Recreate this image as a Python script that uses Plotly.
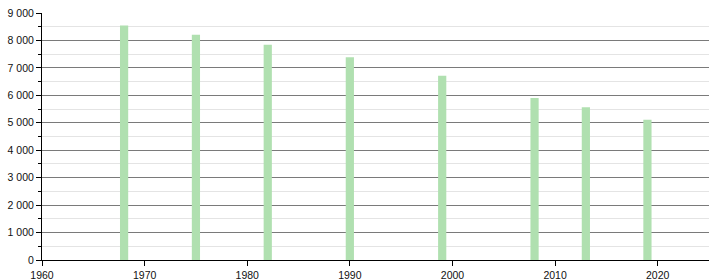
import plotly.graph_objects as go

years = [1968, 1975, 1982, 1990, 1999, 2008, 2013, 2019]
population = [8540, 8210, 7840, 7390, 6710, 5900, 5570, 5110]

fig = go.Figure()
fig.add_trace(go.Bar(
    x=years, y=population, width=0.8,
    marker=dict(color="#b0e0b0", line=dict(width=0)),
))

fig.update_layout(
    width=720, height=280,
    margin=dict(l=42, r=11, t=13, b=20, autoexpand=False),
    paper_bgcolor="white", plot_bgcolor="white",
    showlegend=False,
    separators=". ",
    font=dict(family="Liberation Sans, Arial, sans-serif", size=10.5, color="#111"),
)
fig.update_xaxes(
    range=[1960, 2025], tickmode="linear", tick0=1960, dtick=10,
    showgrid=False, showline=True, linecolor="black", linewidth=1,
    ticks="outside", ticklen=5, tickcolor="black", zeroline=False,
    automargin=False,
)
fig.update_yaxes(
    range=[0, 9000], tickmode="linear", tick0=0, dtick=1000,
    tickformat=",d", automargin=False,
    showgrid=True, gridcolor="#7a7a7a", gridwidth=1,
    showline=True, linecolor="black", linewidth=1,
    ticks="outside", ticklen=5, tickcolor="black", zeroline=False,
    minor=dict(dtick=500, showgrid=True, gridcolor="#e4e4e4", gridwidth=1,
               ticks="outside", ticklen=3, tickcolor="black"),
)

fig.write_html("out.html")
